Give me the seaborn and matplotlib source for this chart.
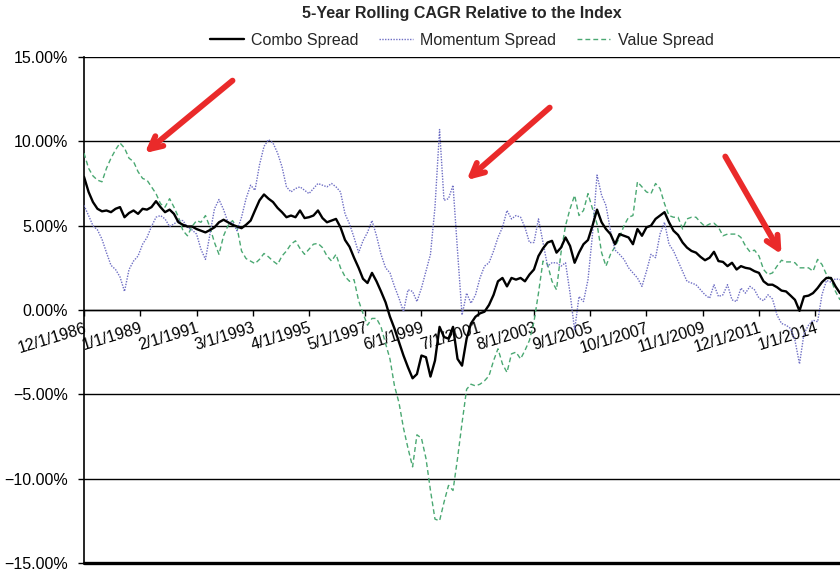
# 5-year rolling CAGR spreads vs. the index, redrawn from a scanned chart
import matplotlib
matplotlib.use("Agg")
import matplotlib.pyplot as plt
import matplotlib.dates as mdates
from matplotlib.lines import Line2D
from matplotlib.ticker import FuncFormatter
import pandas as pd
import seaborn as sns

# readings every second month, Dec 1986 - Dec 2014, in percent
combo = [
    7.9, 7.0, 6.4, 6.0, 5.85, 5.9,
    5.8, 6.0, 6.1, 5.5, 5.75, 5.9,
    5.7, 6.0, 5.95, 6.1, 6.45, 6.1,
    5.8, 5.95, 5.7, 5.2, 5.05, 4.95,
    4.95, 4.8, 4.7, 4.6, 4.74, 4.9,
    5.2, 5.35, 5.2, 5.05, 4.95, 4.85,
    5.05, 5.3, 5.9, 6.5, 6.85, 6.6,
    6.4, 6.05, 5.8, 5.5, 5.6, 5.5,
    5.9, 5.45, 5.5, 5.6, 5.9, 5.45,
    5.2, 5.3, 5.4, 4.9, 4.15, 3.75,
    3.1, 2.5, 1.85, 1.6, 2.2, 1.7,
    1.1, 0.45, -0.4, -1.1, -1.9, -2.7,
    -3.4, -4.05, -3.8, -2.7, -2.8, -3.95,
    -3.0, -1.0, -1.6, -1.7, -1.0, -2.9,
    -3.3, -1.7, -0.8, -0.4, -0.2, -0.1,
    0.3, 0.9, 1.7, 1.9, 1.4, 1.9,
    1.8, 1.9, 1.7, 2.1, 2.4, 3.2,
    3.65, 4.0, 4.1, 3.4, 3.7, 4.3,
    3.8, 2.8, 3.4, 3.9, 4.15, 5.0,
    5.95, 5.2, 4.8, 4.5, 3.9, 4.5,
    4.4, 4.3, 3.9, 4.8, 4.4, 4.9,
    5.0, 5.4, 5.6, 5.8, 5.2, 4.7,
    4.45, 4.0, 3.7, 3.5, 3.4, 3.15,
    2.95, 3.1, 3.45, 2.9, 2.85, 2.6,
    2.8, 2.4, 2.6, 2.5, 2.45, 2.3,
    2.2, 1.7, 1.5, 1.5, 1.35, 1.15,
    1.1, 0.85, 0.6, -0.05, 0.8, 0.85,
    1.0, 1.3, 1.65, 1.9, 1.9, 1.4,
    1.0,
]
momentum = [
    6.2, 5.6, 5.0, 4.75, 4.2, 3.4,
    2.65, 2.4, 1.96, 1.1, 2.4, 2.9,
    3.2, 3.9, 4.3, 4.95, 5.5, 5.6,
    5.4, 4.95, 5.1, 5.3, 5.3, 4.9,
    4.75, 4.5, 3.6, 3.0, 4.5, 6.0,
    6.55, 5.95, 5.2, 5.2, 4.7, 5.5,
    6.6, 7.4, 7.1, 8.6, 9.7, 10.1,
    9.9, 9.3, 8.5, 7.3, 7.0, 7.2,
    7.3, 7.1, 6.9, 7.2, 7.5, 7.4,
    7.3, 7.5, 7.3, 7.0, 5.7, 5.1,
    4.3, 3.4, 4.1, 4.6, 5.3, 4.4,
    3.3, 2.5, 2.2, 1.4, 0.7, -0.1,
    1.2, 1.1, 0.5, 1.3, 2.3, 3.3,
    6.1, 10.7, 6.5, 6.6, 7.4, 3.5,
    -0.3, 1.0, 0.4, 0.9, 1.9, 2.6,
    2.8, 3.5, 4.3, 4.9, 5.9, 5.4,
    5.6, 5.5, 4.9, 4.0, 4.0, 5.4,
    4.0, 2.6, 2.8, 2.8, 2.6, 2.8,
    1.0, -1.2, 0.8, 0.5, 1.8, 4.5,
    8.0, 6.8, 6.2, 4.7, 3.56, 3.3,
    3.0, 2.5, 2.2, 1.9, 1.4, 2.3,
    3.3, 3.1, 4.5, 5.2, 3.9, 3.5,
    2.9, 2.3, 1.7, 1.6, 1.5, 1.2,
    0.9, 0.7, 1.5, 0.8, 0.9, 1.5,
    0.6, 0.5, 1.3, 1.0, 1.4, 1.2,
    0.7, 0.55, 0.9, 0.65, -0.3, -0.8,
    -0.9, -1.1, -1.8, -3.2, -1.4, -0.9,
    -0.6, -0.7, 0.9, 1.75, 1.65, 1.85,
    1.8,
]
value = [
    9.3, 8.4, 7.95, 7.7, 7.6, 8.4,
    9.0, 9.5, 9.9, 9.6, 9.0, 8.8,
    8.2, 7.8, 7.7, 7.3, 6.9, 6.3,
    6.1, 6.6, 6.1, 5.5, 4.7, 4.4,
    4.95, 5.3, 5.2, 5.6, 4.9, 4.0,
    3.3, 4.4, 5.0, 5.3, 4.9, 3.5,
    3.05, 2.9, 2.75, 3.0, 3.35, 3.15,
    2.9, 2.7, 3.2, 3.5, 3.9, 4.1,
    3.65, 3.3, 3.6, 3.9, 3.95, 3.7,
    3.2, 2.9, 3.3, 2.5, 1.98, 1.7,
    1.8, 0.55, -0.2, -0.9, -0.5, -0.5,
    -1.0, -2.0, -2.9, -4.5, -5.5, -7.0,
    -8.2, -9.3, -7.4, -7.6, -8.8, -10.7,
    -12.4, -12.5, -11.4, -10.4, -10.7, -8.8,
    -6.7, -4.7, -4.4, -4.5, -4.4, -4.2,
    -3.9, -3.0, -2.3, -3.2, -3.7, -2.6,
    -2.5, -2.9, -2.4, -1.8, -0.7, 1.0,
    2.9, 2.7, 1.7, 1.2, 3.4, 5.0,
    6.0, 6.8, 5.6, 5.9, 6.9, 6.0,
    5.1, 3.4, 2.6, 3.3, 3.75, 4.3,
    5.0, 5.5, 5.6, 7.6, 7.3, 7.0,
    6.9, 7.5, 7.2, 6.3, 5.6, 5.5,
    5.5, 4.8, 5.4, 5.5, 5.5, 5.2,
    4.95, 5.1, 5.15, 4.9, 4.4, 4.5,
    4.5, 4.5, 4.3, 3.8, 3.45, 3.55,
    3.2, 2.4, 2.1, 2.2, 2.6, 2.95,
    2.85, 2.85, 2.8, 2.5, 2.5, 2.5,
    2.3, 3.0, 2.7, 2.1, 1.8, 1.1,
    0.6,
]

series_names = ["Combo Spread", "Momentum Spread", "Value Spread"]
tick_start = "1986-12-01"
n_ticks = 14

# red call-out arrows: (tail date, tail %), (head date, head %)
arrow_tails = [("1992-06-01", 13.6), ("2004-03-01", 12.0), ("2010-09-01", 9.1)]
arrow_heads = [("1989-03-01", 9.3), ("2001-02-01", 7.7), ("2012-10-01", 3.3)]

dates = pd.date_range(tick_start, periods=len(combo), freq="2MS")
df = pd.DataFrame({"date": dates, series_names[0]: combo,
                   series_names[1]: momentum, series_names[2]: value})
tick_dates = pd.date_range(tick_start, periods=n_ticks, freq="25MS")

sns.set_style("white")
plt.rcParams["font.family"] = ["Liberation Sans", "DejaVu Sans"]
plt.rcParams["axes.unicode_minus"] = True

fig = plt.figure(figsize=(8.4, 5.74), dpi=100)
ax = fig.add_axes([0.1, 0.0192, 0.9, 0.8815])

sns.lineplot(data=df, x="date", y=series_names[2], ax=ax, color="#4aa872",
             lw=1.0, linestyle=(0, (3.5, 2.2)), zorder=3)
sns.lineplot(data=df, x="date", y=series_names[1], ax=ax, color="#6e6ec4",
             lw=1.0, linestyle=(0, (1, 1)), zorder=4)
sns.lineplot(data=df, x="date", y=series_names[0], ax=ax, color="black",
             lw=1.7, zorder=5)

ax.set_xlabel("")
ax.set_ylabel("")
ax.set_xlim(dates[0], dates[-1])
ax.set_ylim(-15, 15)
ax.set_yticks(range(-15, 16, 5))
ax.yaxis.set_major_formatter(FuncFormatter(lambda v, p: f"{v:.2f}%".replace("-", "\u2212")))
ax.grid(axis="y", color="black", lw=1.0)
ax.grid(axis="x", visible=False)
ax.set_axisbelow(True)

ax.spines["top"].set_visible(False)
ax.spines["right"].set_visible(False)
ax.spines["left"].set_color("black")
ax.spines["left"].set_linewidth(1.2)
ax.spines["bottom"].set_position(("data", 0))
ax.spines["bottom"].set_color("black")
ax.spines["bottom"].set_linewidth(1.0)
ax.axhline(-15, color="black", lw=2.4, clip_on=False, zorder=6)

ax.set_xticks(tick_dates)
ax.set_xticklabels([f"{d.month}/{d.day}/{d.year}" for d in tick_dates],
                   rotation=17, ha="right", va="top", rotation_mode="anchor")
ax.tick_params(axis="x", direction="out", length=4.5, width=1, pad=3,
               labelsize=11.5, colors="black", bottom=True)
ax.tick_params(axis="y", direction="out", length=4.3, width=1, pad=7,
               labelsize=11.5, colors="black", left=True)

for (t_date, t_val), (h_date, h_val) in zip(arrow_tails, arrow_heads):
    ax.annotate("", xy=(mdates.date2num(pd.Timestamp(h_date)), h_val),
                xytext=(mdates.date2num(pd.Timestamp(t_date)), t_val),
                arrowprops=dict(arrowstyle="->,head_length=0.9,head_width=0.45",
                                color="#ea2a2a", lw=4.2, shrinkA=0, shrinkB=0),
                zorder=7)

handles = [Line2D([], [], color="black", lw=1.7),
           Line2D([], [], color="#6e6ec4", lw=1.0, linestyle=(0, (1, 1))),
           Line2D([], [], color="#4aa872", lw=1.0, linestyle=(0, (3.5, 2.2)))]
fig.legend(handles, series_names, loc="center", bbox_to_anchor=(0.55, 0.930),
           ncol=3, frameon=False, fontsize=11.5, handlelength=2.1,
           handletextpad=0.45, columnspacing=1.3)
fig.text(0.55, 0.977, "5-Year Rolling CAGR Relative to the Index",
         ha="center", va="center", fontweight="bold", fontsize=11.5)

fig.savefig("out.png", dpi=100)
